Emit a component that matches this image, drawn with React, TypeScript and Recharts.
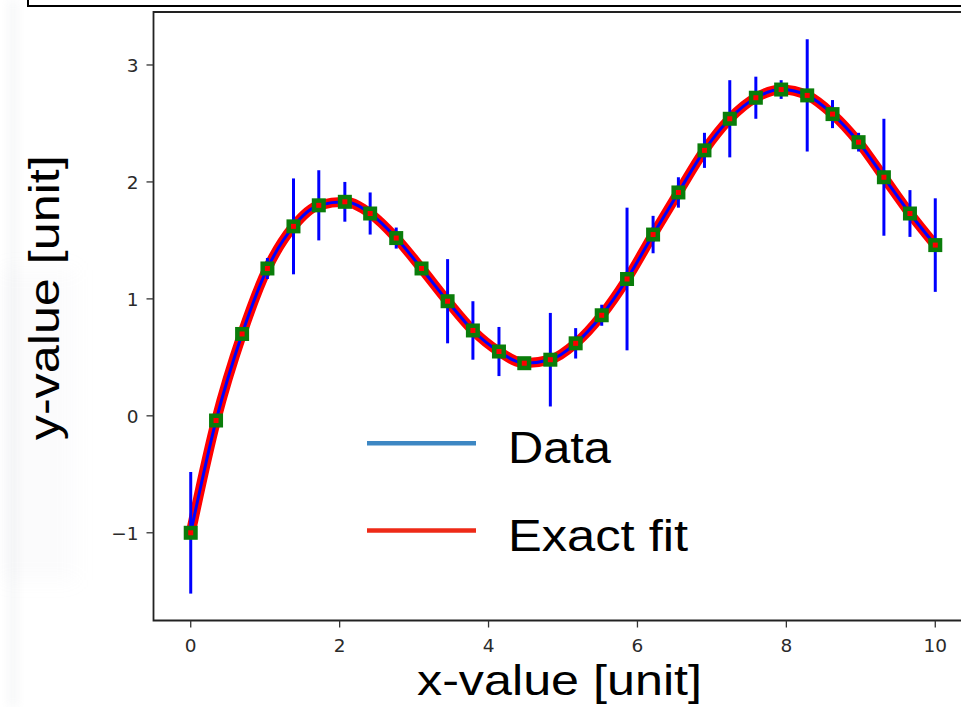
import React from 'react';
import {
  ComposedChart,
  Line,
  Scatter,
  ErrorBar,
  XAxis,
  YAxis,
  Label,
  Legend,
  ReferenceArea,
} from 'recharts';

// Sample positions along the x axis
const xValues = [
  0, 0.34, 0.69, 1.03, 1.38, 1.72, 2.07, 2.41, 2.76, 3.1, 3.45, 3.79, 4.14, 4.48, 4.83,
  5.17, 5.52, 5.86, 6.21, 6.55, 6.9, 7.24, 7.59, 7.93, 8.28, 8.62, 8.97, 9.31, 9.66, 10,
];

// Measured values
const yValues = [
  -1.0, -0.04, 0.7, 1.26, 1.62, 1.8, 1.83, 1.73, 1.52, 1.26, 0.98, 0.73, 0.55, 0.45, 0.48,
  0.62, 0.86, 1.17, 1.55, 1.91, 2.27, 2.54, 2.72, 2.79, 2.74, 2.58, 2.34, 2.04, 1.73, 1.46,
];

// Exact-fit curve evaluated at the same positions
const fitValues = [
  -1.0, -0.04, 0.7, 1.26, 1.62, 1.8, 1.83, 1.73, 1.52, 1.26, 0.98, 0.73, 0.55, 0.45, 0.48,
  0.62, 0.86, 1.17, 1.55, 1.91, 2.27, 2.54, 2.72, 2.79, 2.74, 2.58, 2.34, 2.04, 1.73, 1.46,
];

// Symmetric measurement uncertainty
const yErrors = [
  0.52, 0.03, 0.03, 0.09, 0.41, 0.3, 0.17, 0.18, 0.09, 0.05, 0.36, 0.25, 0.21, 0.04, 0.4,
  0.13, 0.09, 0.61, 0.16, 0.13, 0.15, 0.33, 0.18, 0.08, 0.48, 0.12, 0.08, 0.5, 0.2, 0.4,
];

const xTicks = [0, 2, 4, 6, 8, 10];
const yTicks = [-1, 0, 1, 2, 3];

const xDomain: [number, number] = [-0.5, 10.5];
const yDomain: [number, number] = [-1.75, 3.453];

const legendItems = [
  { name: 'Data', color: '#3d87c3', textWidth: 103 },
  { name: 'Exact fit', color: '#ee2a17', textWidth: 180 },
];

const data = xValues.map((x, i) => ({ x, y: yValues[i], fit: fitValues[i], err: yErrors[i] }));

const TEXT_FONT = '"Liberation Sans", Arial, Helvetica, sans-serif';
const TICK_FONT = '"DejaVu Sans", sans-serif';
const TICK_SIZE = 18.5;

const fmtTick = (v: number) => (v < 0 ? '\u2212' + Math.abs(v) : String(v));

const XTick = (props: any) => {
  const { x, y, payload } = props;
  return (
    <text
      x={x}
      y={y + 24}
      textAnchor="middle"
      fontSize={TICK_SIZE}
      fontFamily={TICK_FONT}
      fill="#2a2a2a"
    >
      {fmtTick(payload.value)}
    </text>
  );
};

const YTick = (props: any) => {
  const { x, y, payload } = props;
  return (
    <text
      x={x}
      y={y + 6.8}
      textAnchor="end"
      fontSize={TICK_SIZE}
      fontFamily={TICK_FONT}
      fill="#2a2a2a"
    >
      {fmtTick(payload.value)}
    </text>
  );
};

const SquareMarker = (props: any) => {
  const { cx, cy } = props;
  if (cx == null || cy == null) return null;
  return (
    <g>
      <rect x={cx - 7} y={cy - 7} width={14} height={14} fill="#0a7d0a" />
      <rect x={cx - 2.5} y={cy - 2.5} width={5} height={5} fill="#ff0000" />
    </g>
  );
};

const renderLegend = () => (
  <svg width={340} height={150} style={{ display: 'block' }}>
    {legendItems.map((item, i) => {
      const lineY = 33.3 + i * 87.2;
      return (
        <g key={item.name}>
          <line x1={7} x2={116} y1={lineY} y2={lineY} stroke={item.color} strokeWidth={4.5} />
          <text
            x={148}
            y={lineY + 20}
            fontSize={44}
            fontFamily={TEXT_FONT}
            fill="#000"
            textLength={item.textWidth}
            lengthAdjust="spacingAndGlyphs"
          >
            {item.name}
          </text>
        </g>
      );
    })}
  </svg>
);

const XTitle = (props: any) => {
  const vb = props.viewBox || { x: 0, y: 0, width: 0, height: 0 };
  const cx = vb.x + vb.width / 2 - 3.5;
  return (
    <text
      x={cx}
      y={vb.y + 74.5}
      textAnchor="middle"
      fontSize={42.5}
      fontFamily={TEXT_FONT}
      fill="#000"
      textLength={285}
      lengthAdjust="spacingAndGlyphs"
    >
      x-value [unit]
    </text>
  );
};

const YTitle = (props: any) => {
  const vb = props.viewBox || { x: 0, y: 0, width: 0, height: 0 };
  const bx = 59;
  const cy = vb.y + vb.height / 2 - 18.5;
  return (
    <text
      x={bx}
      y={cy}
      transform={`rotate(-90, ${bx}, ${cy})`}
      textAnchor="middle"
      fontSize={42.5}
      fontFamily={TEXT_FONT}
      fill="#000"
      textLength={285}
      lengthAdjust="spacingAndGlyphs"
    >
      y-value [unit]
    </text>
  );
};

export default function App() {
  return (
    <div
      style={{
        position: 'fixed',
        left: 0,
        top: 0,
        width: 961,
        height: 707,
        overflow: 'hidden',
        background: '#fff',
      }}
    >
      {/* faint backdrop along the left edge */}
      <div
        style={{
          position: 'absolute',
          left: 8,
          top: 0,
          width: 10,
          height: 707,
          background: 'rgba(185,190,200,0.12)',
          filter: 'blur(5px)',
        }}
      />
      <div
        style={{
          position: 'absolute',
          left: 0,
          top: 270,
          width: 75,
          height: 310,
          background: 'rgba(200,203,210,0.07)',
          filter: 'blur(10px)',
        }}
      />
      {/* lower edge of the panel above */}
      <svg
        width={961}
        height={10}
        style={{ position: 'absolute', left: 0, top: 0, display: 'block' }}
      >
        <line x1={28} x2={28} y1={0} y2={7} stroke="#000" strokeWidth={2} />
        <line x1={27} x2={961} y1={6} y2={6} stroke="#000" strokeWidth={2} />
      </svg>
      <div style={{ position: 'absolute', left: 0, top: 0 }}>
        <ComposedChart
          width={1000}
          height={707}
          data={data}
          margin={{ top: 12, right: 27.5, bottom: 0, left: 0 }}
        >
          <XAxis
            type="number"
            dataKey="x"
            domain={xDomain}
            allowDataOverflow
            ticks={xTicks}
            height={86.5}
            tickSize={7}
            tickMargin={0}
            axisLine={false}
            tickLine={{ stroke: '#333', strokeWidth: 1.3 }}
            tick={<XTick />}
          >
            <Label content={<XTitle />} />
          </XAxis>
          <YAxis
            type="number"
            domain={yDomain}
            allowDataOverflow
            ticks={yTicks}
            width={153.5}
            tickSize={7}
            tickMargin={8}
            axisLine={false}
            tickLine={{ stroke: '#333', strokeWidth: 1.3 }}
            tick={<YTick />}
          >
            <Label content={<YTitle />} />
          </YAxis>
          <Line
            type="monotone"
            dataKey="fit"
            stroke="#ff0000"
            strokeWidth={10}
            dot={false}
            activeDot={false}
            isAnimationActive={false}
          />
          <Line
            type="monotone"
            dataKey="y"
            stroke="#0000ff"
            strokeWidth={3}
            dot={false}
            activeDot={false}
            isAnimationActive={false}
          />
          <Scatter dataKey="y" shape={<SquareMarker />} isAnimationActive={false}>
            <ErrorBar
              dataKey="err"
              direction="y"
              stroke="#0000ff"
              strokeWidth={3}
              width={0}
              isAnimationActive={false}
            />
          </Scatter>
          <ReferenceArea
            x1={xDomain[0]}
            x2={xDomain[1]}
            y1={yDomain[0]}
            y2={yDomain[1]}
            fill="none"
            fillOpacity={0}
            stroke="#222"
            strokeWidth={1.8}
          />
          <Legend
            content={renderLegend}
            layout="horizontal"
            verticalAlign="middle"
            align="center"
            wrapperStyle={{ left: 360, top: 410, width: 340, height: 150 }}
          />
        </ComposedChart>
      </div>
    </div>
  );
}
